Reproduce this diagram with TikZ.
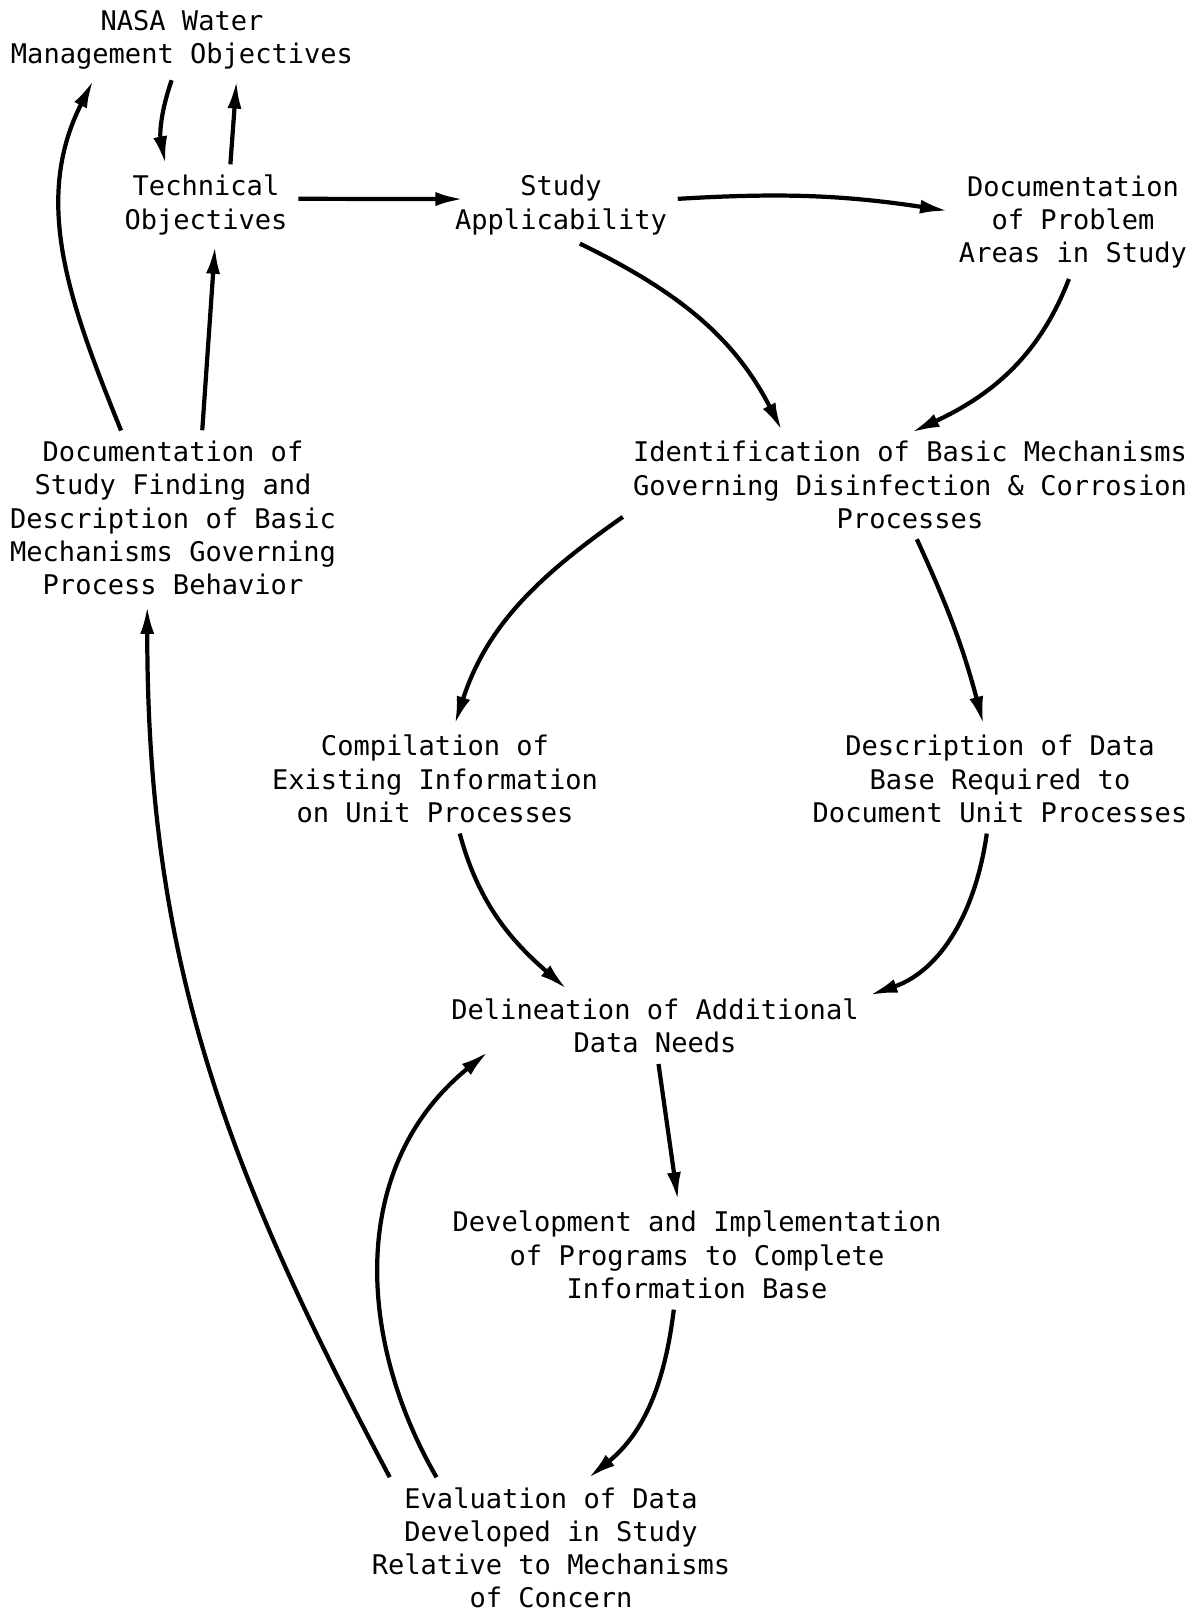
\documentclass[tikz,border=0pt]{standalone}
\usepackage{fontspec}
\setmonofont{DejaVu Sans Mono}
\usetikzlibrary{arrows.meta}
\tikzset{
  box/.style={align=center, inner sep=4pt, font=\ttfamily\fontsize{15.4}{18.9}\selectfont},
  flow/.style={line width=2.4pt, -{Latex[length=16pt,width=8pt]}, shorten <=2pt, shorten >=2pt}
}
\begin{document}
\begin{tikzpicture}[x=0.02cm, y=-0.02cm]
\useasboundingbox (0,0) rectangle (1195,1614);
\node[box] (nasa) at (182,40) {NASA Water\\Management Objectives};
\node[box] (tech) at (206,205) {Technical\\Objectives};
\node[box] (study) at (561,205) {Study\\Applicability};
\node[box] (prob) at (1073,222) {Documentation\\of Problem\\Areas in Study};
\node[box] (ident) at (910,485) {Identification of Basic Mechanisms\\Governing Disinfection \& Corrosion\\Processes};
\node[box] (docf) at (173,518) {Documentation of\\Study Finding and\\Description of Basic\\Mechanisms Governing\\Process Behavior};
\node[box] (comp) at (435,779) {Compilation of\\Existing Information\\on Unit Processes};
\node[box] (desc) at (1000,779) {Description of Data\\Base Required to\\Document Unit Processes};
\node[box] (delin) at (655,1026) {Delineation of Additional\\Data Needs};
\node[box] (dev) at (697,1255) {Development and Implementation\\of Programs to Complete\\Information Base};
\node[box] (eval) at (551,1548) {Evaluation of Data\\Developed in Study\\Relative to Mechanisms\\of Concern};

\draw[flow] (nasa.-104) to[bend right=15] (tech.137);
\draw[flow] (tech.57) -- (nasa.-34);
\draw[flow] (docf.71) -- (tech.-76);
\draw[flow] (docf.121) to[out=112,in=-117] (nasa.-157);
\draw[flow, shorten >=-9pt] (tech.4) -- (study.177);
\draw[flow] (study.3) to[bend left=6] (prob.175);
\draw[flow] (study.-67) to[out=-26,in=117] (ident.158);
\draw[flow] (prob.-93) to[out=-111,in=25] (ident.92);
\draw[flow] (ident.-174) to[out=-145,in=72] (comp.70);
\draw[flow] (ident.-84) to[bend left=5] (desc.107);
\draw[flow] (comp.-65) to[out=-75,in=139] (delin.158);
\draw[flow] (desc.-104) to[out=-98,in=19] (delin.8);
\draw[flow] (delin.-85) -- (dev.110);
\draw[flow] (dev.-114) to[out=-97,in=39] (eval.63);
\draw[flow, shorten >=-8pt] (eval.149) to[out=120,in=-141] (delin.-169);
\draw[flow] (eval.157) to[out=118,in=-90] (docf.-107);
\end{tikzpicture}
\end{document}
